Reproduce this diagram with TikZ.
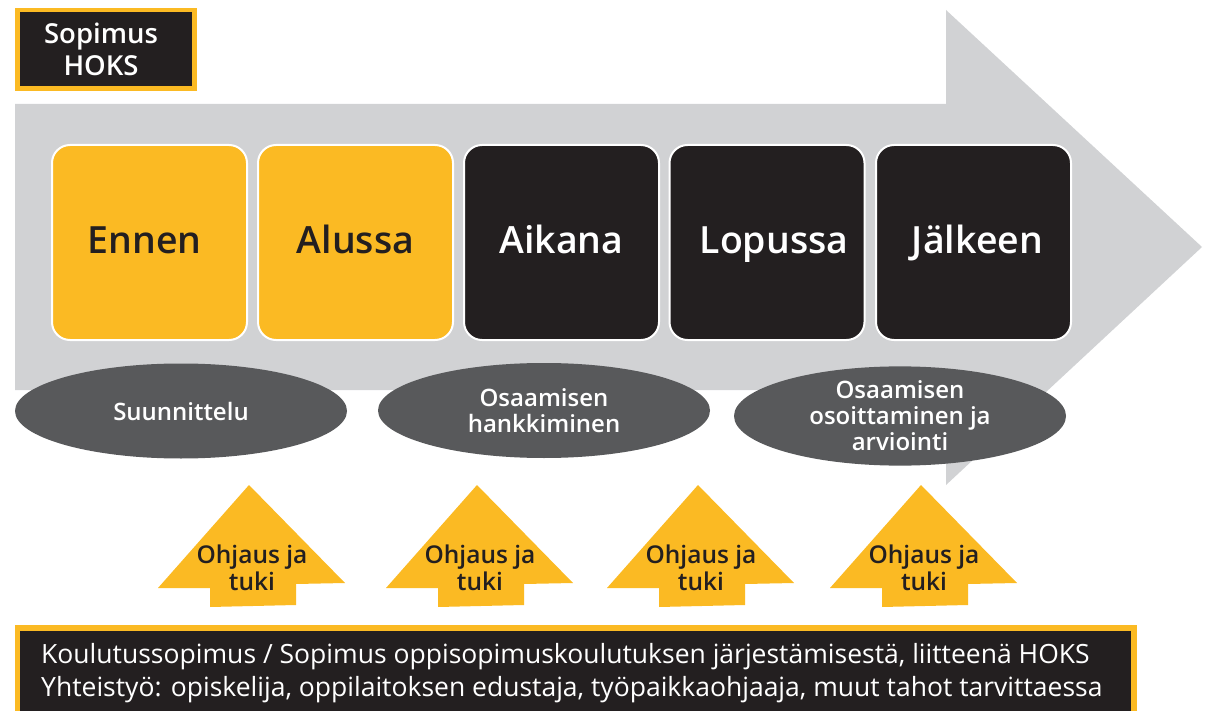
\documentclass[tikz,border=0pt]{standalone}
\usepackage{fontspec}
\setmainfont{Open Sans}[BoldFont={Open Sans Semibold}]
\usetikzlibrary{shapes.geometric}
\definecolor{hgray}{HTML}{D1D2D4}
\definecolor{hyellow}{HTML}{FBBA23}
\definecolor{hdark}{HTML}{231F20}
\definecolor{hell}{HTML}{58595B}
\tikzset{
  phase/.style={draw=white, line width=2pt, rounded corners=18pt, minimum width=195pt, minimum height=195pt, text height=27pt, text depth=4pt, font=\fontsize{37.5}{40}\selectfont\bfseries},
  yphase/.style={phase, fill=hyellow, text=hdark},
  dphase/.style={phase, fill=hdark, text=white},
  oval/.style={ellipse, fill=hell, text=white, inner sep=0pt, minimum width=332pt, minimum height=95pt, align=center, font=\fontsize{24}{26}\selectfont\bfseries},
  uparrow/.style={fill=hyellow},
  uptext/.style={text=hdark, align=center, font=\fontsize{24.5}{27}\selectfont\bfseries},
}
\begin{document}
\begin{tikzpicture}[x=1pt,y=-1pt]
\useasboundingbox (0,0) rectangle (1207,711);
% big arrow
\fill[hgray] (15,104) -- (946,104) -- (946,10) -- (1202,247) -- (946,485) -- (946,390) -- (15,390) -- cycle;
% top-left box
\fill[hyellow] (15,8) rectangle (197,91);
\node[fill=hdark, minimum width=172pt, minimum height=74pt, inner sep=0pt] (sopimus) at (106,49.5) {};
\node[text=white, align=center, inner sep=0pt, font=\fontsize{27.5}{32}\selectfont\bfseries] (sopimustxt) at (101,49.5) {Sopimus\\HOKS};
% phases
\node[yphase] (ennen) at (149.5,242.5) {\hspace*{-10pt}Ennen};
\node[yphase] (alussa) at (355.5,242.5) {Alussa};
\node[dphase] (aikana) at (561.5,242.5) {Aikana};
\node[dphase] (lopussa) at (767,242.5) {\hspace*{14pt}Lopussa};
\node[dphase] (jalkeen) at (973.5,242.5) {\hspace*{8pt}Jälkeen};
% ovals
\node[oval] (suun) at (181,411) {Suunnittelu};
\node[oval] (hank) at (544,410.5) {Osaamisen\\hankkiminen};
\node[oval, minimum height=94pt] (osoit) at (900,416) {Osaamisen\\osoittaminen ja\\arviointi};
% up arrows
\foreach \cx/\nm in {249/a, 477/b, 698/c, 921/d}{
  \fill[uparrow] (\cx,485) -- (\cx+96,583) -- (\cx+47,584) -- (\cx+47,605) -- (\cx-39,607) -- (\cx-39,588) -- (\cx-91,588) -- cycle;
  \node[uptext] (oj\nm) at (\cx+3,568) {Ohjaus ja\\tuki};
}
% bottom box
\fill[hyellow] (15,625) rectangle (1137,716);
\fill[hdark] (20,631) rectangle (1131,716);
\node[anchor=base west, text=white, align=left, inner sep=0pt, font=\fontsize{26.5}{33}\selectfont] (coop) at (41,696) {Koulutussopimus / Sopimus oppisopimuskoulutuksen järjestämisestä, liitteenä HOKS\\Yhteistyö: opiskelija, oppilaitoksen edustaja, työpaikkaohjaaja, muut tahot tarvittaessa};
\end{tikzpicture}
\end{document}
